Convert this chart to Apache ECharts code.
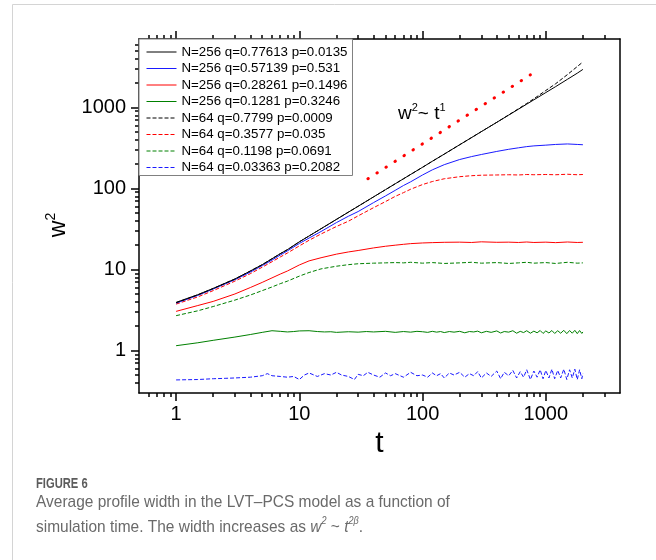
<!DOCTYPE html>
<html><head><meta charset="utf-8">
<script src="https://cdn.jsdelivr.net/npm/echarts@6.0.0/dist/echarts.min.js"></script>
<style>html,body{margin:0;padding:0;background:#fff}#c{width:656px;height:560px}</style>
</head><body><div id="c"></div>
<script>
// ---------- data ----------
const tGrid = [1,1.5,2,3,4,5,6,7,8,10,12,15,20,25,30,40,50,60,70,80,100,120,150,200,250,300,400,500,600,700,800,1000,1200,1500,1800,2000];
const blackSolid  = [3.94,4.9,5.86,7.66,9.6,11.5,13.6,15.7,17.6,22.0,26.0,31.9,41.6,51.1,60.4,78.8,96.8,114.5,131.9,149.2,183,217,266,347,426,504,656,806,953,1099,1244,1528,1807,2230,2650,2950];
const blackDashed = [3.9,4.88,5.84,7.64,9.6,11.5,13.6,15.7,17.6,22.0,26.0,31.9,41.6,51.1,60.4,78.8,96.8,114.5,131.9,149.2,183,217,266,347,426,504,656,810,965,1120,1280,1620,1960,2550,3200,3650];
const blueSolid   = [3.85,4.8,5.75,7.5,9.3,11.2,13.1,15.1,17.0,21.0,24.5,29.5,38,45.5,52,67,81,95,109,121,147,170,197,228,248,263,287,305,318,329,336,343,350,355,350,347];
const redDashed   = [3.75,4.6,5.5,7.2,8.9,10.7,12.5,14.3,16.0,19.6,23,27.5,34,39.5,46,58,69,80,89,98,112,122,132,140,144,146,147,148,147,149,148,149,148,150,148,149];
const redSolid    = [3.05,3.6,4.05,5.0,6.0,6.95,7.9,8.8,9.6,11.4,12.8,14.0,15.5,16.5,17.2,18.5,19.4,20.0,20.5,20.9,21.3,21.5,21.7,21.8,21.6,22.0,21.7,21.8,21.6,21.9,21.6,21.8,21.5,21.9,21.6,21.7];
const greenDashed = [2.7,3.1,3.5,4.2,4.85,5.5,6.1,6.7,7.2,8.3,9.2,10.2,11.0,11.5,11.8,12.0,12.1,12.2,12.1,12.3,12.0,12.2,11.9,12.1,12.3,12.0,12.2,11.9,12.1,12.3,12.0,12.2,11.9,12.3,12.0,12.1];

const tGreenEarly = [1,1.5,2,3,4,5,6,7,8,9,10,12,14,16,18,20,25,30,35,40,50,60,70,80,90];
const greenSolidEarly = [1.15,1.25,1.34,1.47,1.58,1.68,1.76,1.73,1.70,1.72,1.75,1.76,1.72,1.70,1.71,1.68,1.71,1.69,1.72,1.70,1.73,1.68,1.72,1.69,1.73];
const tBlueEarly = [1,1.5,2,2.5,3,4,5,5.5,6,7,8,9,10,11,12,14,16,18,20,22,25,28,30,33,36,40,45,50,55,60,70,80,90];
const blueDashedEarly = [0.435,0.44,0.45,0.455,0.46,0.47,0.49,0.52,0.49,0.48,0.47,0.48,0.44,0.50,0.53,0.48,0.52,0.50,0.54,0.50,0.48,0.44,0.51,0.49,0.54,0.50,0.47,0.53,0.49,0.52,0.47,0.54,0.49];
const tBand = [100,110,120,130,140,150,165,180,200,220,240,260,280,300,330,360,400,430,460,500,540,580,620,660,700,750,800,850,900,950,1000,1060,1120,1180,1250,1320,1400,1480,1560,1640,1720,1800,1880,1960,2000];
const greenSolidBand = [1.71,1.68,1.73,1.69,1.72,1.67,1.72,1.69,1.73,1.66,1.72,1.70,1.74,1.66,1.73,1.68,1.75,1.65,1.72,1.69,1.76,1.64,1.73,1.67,1.76,1.64,1.74,1.66,1.77,1.63,1.75,1.65,1.77,1.63,1.76,1.64,1.78,1.62,1.77,1.64,1.78,1.62,1.77,1.63,1.70];
const blueDashedBand = [0.50,0.47,0.53,0.49,0.52,0.46,0.53,0.50,0.54,0.47,0.52,0.49,0.55,0.46,0.53,0.48,0.56,0.45,0.54,0.49,0.57,0.46,0.55,0.47,0.58,0.44,0.56,0.47,0.58,0.45,0.57,0.46,0.59,0.45,0.57,0.46,0.59,0.44,0.58,0.46,0.59,0.44,0.58,0.45,0.52];

const refT = [36, 750];
const refW = [132, 2530];

const seriesNames = [
  'N=256 q=0.77613 p=0.0135',
  'N=256 q=0.57139 p=0.531',
  'N=256 q=0.28261 p=0.1496',
  'N=256 q=0.1281 p=0.3246',
  'N=64 q=0.7799 p=0.0009',
  'N=64 q=0.3577 p=0.035',
  'N=64 q=0.1198 p=0.0691',
  'N=64 q=0.03363 p=0.2082'
];

const xMajor = [1,10,100,1000];
const xMinor = [0.6,0.7,0.8,0.9,2,3,4,5,6,7,8,9,20,30,40,50,60,70,80,90,200,300,400,500,600,700,800,900,2000,3000];
const yMajor = [1,10,100,1000];
const yMinor = [0.4,0.5,0.6,0.7,0.8,0.9,2,3,4,5,6,7,8,9,20,30,40,50,60,70,80,90,200,300,400,500,600,700,800,900,2000,3000,4000,5000,6000];

// ---------- chart ----------
const FONT = "'Liberation Sans', Arial, Helvetica, sans-serif";
const CAP_FONT = "'Liberation Sans', Arial, sans-serif";
const X_MIN = 0.5, X_MAX = 4000, Y_MIN = 0.3, Y_MAX = 7000;
const AX = {color:'#000', width:1.5};

function pairs(ts, ws){ return ts.map((t,i)=>[t, ws[i]]); }
function mk(name, data, color, dashed){
  return {type:'line', name, data, symbol:'none', showSymbol:false, silent:true,
    animation:false, xAxisIndex:0, yAxisIndex:0,
    lineStyle:{color, width:1, type: dashed ? [4,2] : 'solid'},
    itemStyle:{color}, emphasis:{disabled:true}};
}
function xAx(pos, ticks, len, showLine, labels, extra){
  return Object.assign({type:'log', position:pos, min:X_MIN, max:X_MAX, logBase:10,
    axisLine:{show:showLine, onZero:false, lineStyle:AX},
    axisTick:{show:true, inside:false, length:len, customValues:ticks, lineStyle:AX},
    axisLabel: labels ? {show:true, customValues:ticks, formatter:v=>String(v), fontSize:20, color:'#000', fontFamily:FONT, margin:11} : {show:false},
    splitLine:{show:false}, minorTick:{show:false}, minorSplitLine:{show:false}}, extra||{});
}
function yAx(pos, ticks, len, showLine, labels, extra){
  return Object.assign({type:'log', position:pos, min:Y_MIN, max:Y_MAX, logBase:10,
    axisLine:{show:showLine, onZero:false, lineStyle:AX},
    axisTick: ticks ? {show:true, inside:false, length:len, customValues:ticks, lineStyle:AX} : {show:false},
    axisLabel: labels ? {show:true, customValues:ticks, formatter:v=>String(v), fontSize:20, color:'#000', fontFamily:FONT, margin:13} : {show:false},
    splitLine:{show:false}, minorTick:{show:false}, minorSplitLine:{show:false}}, extra||{});
}

const chart = echarts.init(document.getElementById('c'), null, {renderer:'canvas'});
chart.setOption({
  animation:false,
  backgroundColor:'#fff',
  grid:{left:139, top:39, width:481, height:354, containLabel:false},
  xAxis:[
    xAx('bottom', xMajor, 8, true, true, {name:'t', nameLocation:'middle', nameGap:26,
      nameTextStyle:{fontSize:30, color:'#000', fontFamily:FONT}}),
    xAx('bottom', xMinor, 4, false, false),
    xAx('top', xMajor, 8, true, false),
    xAx('top', xMinor, 4, false, false)
  ],
  yAxis:[
    yAx('left', yMajor, 8, true, true, {name:'{w|w}{s|2}', nameLocation:'middle', nameGap:50, nameRotate:90,
      nameTextStyle:{color:'#000', fontFamily:FONT, padding:[0,0,0,-18],
        rich:{w:{fontSize:23, color:'#000', fontFamily:FONT, verticalAlign:'bottom', lineHeight:26},
              s:{fontSize:14, color:'#000', fontFamily:FONT, verticalAlign:'top', lineHeight:26}}}}),
    yAx('left', yMinor, 4, false, false),
    yAx('right', null, 0, true, false)
  ],
  legend:{
    data: seriesNames, orient:'vertical', left:139, top:39,
    itemWidth:30, itemHeight:10, itemGap:0.5, selectedMode:false,
    itemStyle:{opacity:0, borderWidth:0},
    lineStyle:{width:1},
    padding:[5,5,0,7], borderColor:'#808080', borderWidth:1, backgroundColor:'#fff',
    textStyle:{fontSize:13.3, color:'#000', fontFamily:FONT, lineHeight:16}
  },
  series:[
    mk(seriesNames[7], pairs(tBlueEarly.concat(tBand), blueDashedEarly.concat(blueDashedBand)), '#1a1aff', true),
    mk(seriesNames[3], pairs(tGreenEarly.concat(tBand), greenSolidEarly.concat(greenSolidBand)), '#008000', false),
    mk(seriesNames[6], pairs(tGrid, greenDashed), '#008000', true),
    mk(seriesNames[2], pairs(tGrid, redSolid), '#ff0000', false),
    mk(seriesNames[5], pairs(tGrid, redDashed), '#ff0000', true),
    mk(seriesNames[1], pairs(tGrid, blueSolid), '#1a1aff', false),
    mk(seriesNames[4], pairs(tGrid, blackDashed), '#000000', true),
    mk(seriesNames[0], pairs(tGrid, blackSolid), '#000000', false),
    {type:'line', name:'w2 ~ t1', data: pairs(refT, refW), symbol:'none', silent:true, animation:false,
      lineStyle:{color:'#ff0000', width:3, type:[0.5,10.2], cap:'round'}, emphasis:{disabled:true}}
  ],
  graphic:[
    {type:'polyline', silent:true, shape:{points:[[12.5,560],[12.5,4.5],[656,4.5]]},
      style:{stroke:'#d4d4d4', lineWidth:1, fill:null}},
    {type:'text', left:398, top:102, silent:true,
      style:{text:'{b|w}{s|2}{b|~ t}{s|1}', fill:'#000',
        rich:{b:{fontSize:19, fontFamily:FONT, fill:'#000', lineHeight:21, verticalAlign:'bottom'},
              s:{fontSize:11, fontFamily:FONT, fill:'#000', lineHeight:21, verticalAlign:'top'}}}},
    {type:'text', x:36, y:477, scaleX:0.8, silent:true,
      style:{text:'FIGURE 6', fontSize:14, fontWeight:'bold', fill:'#5c5c5c', fontFamily:CAP_FONT}},
    {type:'text', x:36, y:494, scaleX:0.91, silent:true,
      style:{text:'Average profile width in the LVT–PCS model as a function of', fontSize:17, fill:'#6a6a6a', fontFamily:CAP_FONT}},
    {type:'text', x:36, y:516, scaleX:0.91, silent:true,
      style:{text:'{n|simulation time. The width increases as }{i|w}{p|2}{n| ~ }{i|t}{p|2β}{n|.}', fill:'#6a6a6a',
        rich:{n:{fontSize:17, fill:'#6a6a6a', fontFamily:CAP_FONT, lineHeight:20, verticalAlign:'bottom'},
              i:{fontSize:17, fontStyle:'italic', fill:'#6a6a6a', fontFamily:CAP_FONT, lineHeight:20, verticalAlign:'bottom'},
              p:{fontSize:10, fontStyle:'italic', fill:'#6a6a6a', fontFamily:CAP_FONT, lineHeight:18, verticalAlign:'top'}}}}
  ]
});
</script>
</body></html>
